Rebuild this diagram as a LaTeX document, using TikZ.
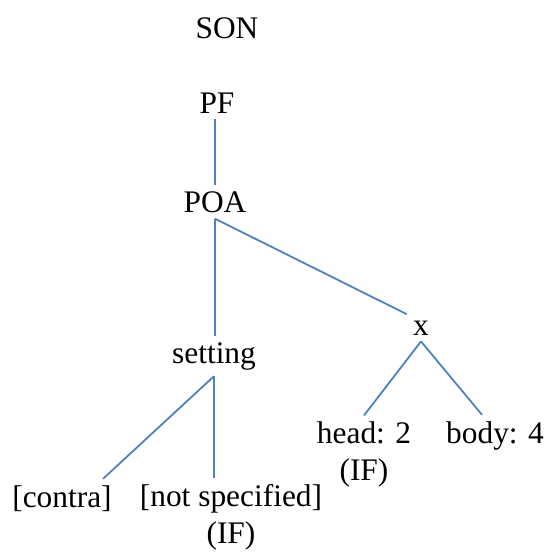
\documentclass[tikz,border=0pt]{standalone}
\usepackage{fontspec}
\setmainfont{LiberationSerif}[Extension=.ttf, UprightFont=*-Regular]
\usetikzlibrary{positioning}
\definecolor{branchblue}{RGB}{79,129,189}

\begin{document}
\begin{tikzpicture}[
         x=0.5pt, y=-0.5pt,
         feat/.style={font=\rmfamily\fontsize{15.7}{18.2}\selectfont, inner sep=3pt, anchor=base, align=center},
         branch/.style={draw=branchblue, line width=0.9pt}
      ]
         \useasboundingbox (0,0) rectangle (546,552);

         % Nodes for features (two-line nodes sit on their last line)
         \node[feat] (son) at (227,38) {SON};
         \node[feat] (pf) at (217,113) {PF};
         \node[feat] (poa) at (215,212) {POA};
         \node[feat] (setting) at (214,363) {setting};
         \node[feat] (x) at (421,335) {x};
         \node[feat] (head) at (364,480) {head: 2\\(IF)};
         \node[feat] (body) at (495,443) {body: 4};
         \node[feat] (contra) at (62,507) {[contra]};
         \node[feat] (notspec) at (231,543) {[not specified]\\(IF)};

         % Branches between features
         \draw[branch] (poa.north |- pf.south) -- (poa.north);
         \draw[branch] (poa.south) -- (poa.south |- setting.north);
         \draw[branch] (poa.south) -- (x.north west);
         \draw[branch] (x.south) -- (head.north);
         \draw[branch] (x.south) -- ([xshift=-6.5pt]body.north);
         \draw[branch] (setting.south) -- ([xshift=20.5pt]contra.north);
         \draw[branch] (setting.south) -- (setting.south |- notspec.north);
      \end{tikzpicture}
\end{document}
